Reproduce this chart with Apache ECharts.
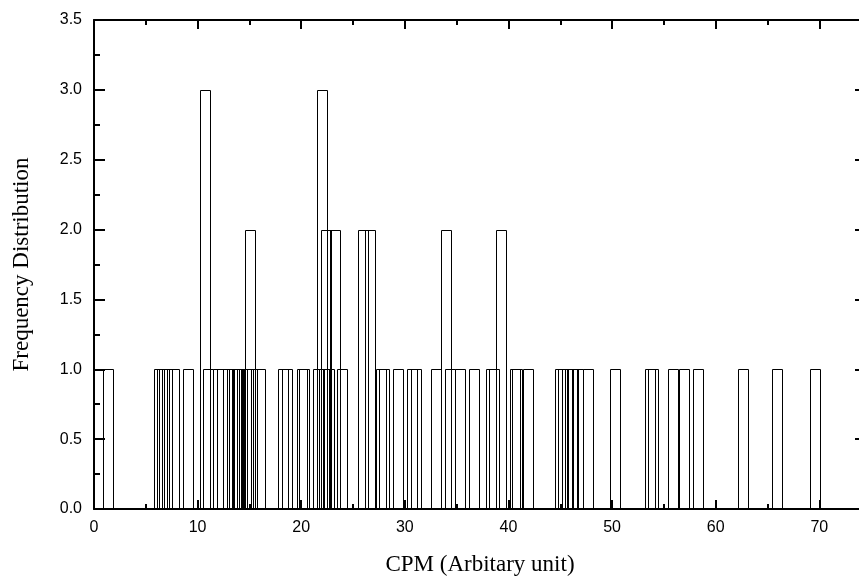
<!DOCTYPE html>
<html>
<head>
<meta charset="utf-8">
<script src="https://cdn.jsdelivr.net/npm/echarts@6/dist/echarts.min.js"></script>
<style>html,body{margin:0;padding:0;background:#fff;overflow:hidden;width:859px;height:581px}#c{width:872px;height:581px}</style>
</head>
<body>
<div id="c"></div>
<script>
// Bar centres (CPM, arbitrary unit) and their frequencies
const cpmValues = [
  0.45, 1.35,
  6.32, 6.55, 6.80, 7.06, 7.74, 9.06,
  10.75, 11.03, 12.01, 12.34, 12.98, 13.31, 13.56, 13.82, 14.01, 14.27, 14.66, 14.91, 15.05, 15.30, 16.01,
  18.28, 18.64, 20.09, 20.31,
  21.67, 22.0, 22.22, 22.36, 22.70, 23.32, 23.95,
  26.0, 26.68, 27.72, 28.04,
  29.33, 30.74, 31.07, 33.0, 33.97, 34.38, 35.3, 36.72, 38.3, 38.65, 39.27,
  40.65, 40.84, 41.94,
  44.99, 45.31, 45.71, 46.1, 46.28, 46.73, 47.69, 50.32,
  53.68, 54.0, 55.93, 56.96, 58.29, 62.63, 65.94, 69.64
];
const frequencies = [
  1, 1,
  1, 1, 1, 1, 1, 1,
  3, 1, 1, 1, 1, 1, 1, 1, 1, 1, 1, 1, 2, 1, 1,
  1, 1, 1, 1,
  1, 3, 1, 2, 1, 2, 1,
  2, 2, 1, 1,
  1, 1, 1, 1, 2, 1, 1, 1, 1, 1, 2,
  1, 1, 1,
  1, 1, 1, 1, 1, 1, 1, 1,
  1, 1, 1, 1, 1, 1, 1, 1
];
const barWidthUnits = 1.0;
const xTickLabels = ['0', '10', '20', '30', '40', '50', '60', '70'];
const yTickLabels = ['0.0', '0.5', '1.0', '1.5', '2.0', '2.5', '3.0', '3.5'];
const xTitle = 'CPM (Arbitary unit)';
const yTitle = 'Frequency Distribution';

const data = cpmValues.map((v, i) => [v, frequencies[i]]);

const chart = echarts.init(document.getElementById('c'), null, {renderer: 'canvas'});

const axisLine = {show: true, onZero: false, lineStyle: {color: '#000', width: 2}};
const tickFont = {color: '#000', fontFamily: 'Liberation Sans, Arial, sans-serif', fontSize: 16};
const titleFont = {color: '#000', fontFamily: 'Liberation Serif, Times New Roman, serif', fontSize: 23};

function xAxisCfg(pos, showLabel) {
  return {
    type: 'value', position: pos, min: 0, max: 74.5, interval: 10,
    axisLine: axisLine,
    axisTick: {show: true, inside: true, length: 9, lineStyle: {color: '#000', width: 2}},
    minorTick: {show: true, splitNumber: 2, length: 5, lineStyle: {color: '#000', width: 2}},
    splitLine: {show: false},
    axisLabel: Object.assign({show: showLabel, margin: 11, showMaxLabel: false,
      formatter: v => { const i = Math.round(v / 10); return xTickLabels[i] !== undefined ? xTickLabels[i] : ''; }}, tickFont),
    name: showLabel ? xTitle : '', nameLocation: 'middle', nameGap: 44,
    nameTextStyle: titleFont
  };
}
function yAxisCfg(pos, showLabel) {
  return {
    type: 'value', position: pos, min: 0, max: 3.5, interval: 0.5,
    axisLine: axisLine,
    axisTick: {show: true, inside: true, length: 11, lineStyle: {color: '#000', width: 2}},
    minorTick: {show: true, splitNumber: 2, length: 6, lineStyle: {color: '#000', width: 2}},
    splitLine: {show: false},
    axisLabel: Object.assign({show: showLabel, margin: 12,
      formatter: v => { const i = Math.round(v / 0.5); return yTickLabels[i] !== undefined ? yTickLabels[i] : ''; }}, tickFont),
    name: showLabel ? yTitle : '', nameLocation: 'middle', nameGap: 61,
    nameTextStyle: titleFont
  };
}

chart.setOption({
  animation: false,
  backgroundColor: '#fff',
  grid: {left: 94, top: 20, width: 772, height: 490, containLabel: false},
  xAxis: [xAxisCfg('bottom', true), xAxisCfg('top', false)],
  yAxis: [yAxisCfg('left', true), yAxisCfg('right', false)],
  series: [{
    type: 'custom',
    xAxisIndex: 0, yAxisIndex: 0,
    clip: true,
    data: data,
    renderItem: function (params, api) {
      const x = api.value(0), h = api.value(1);
      const p0 = api.coord([x - barWidthUnits / 2, h]);
      const p1 = api.coord([x + barWidthUnits / 2, 0]);
      return {
        type: 'rect',
        shape: {x: Math.round(p0[0]) + 0.5, y: Math.round(p0[1]) + 0.5, width: Math.round(p1[0] - p0[0]), height: Math.round(p1[1] - p0[1])},
        style: {fill: 'none', stroke: '#000', lineWidth: 1}
      };
    }
  }]
});
</script>
</body>
</html>
